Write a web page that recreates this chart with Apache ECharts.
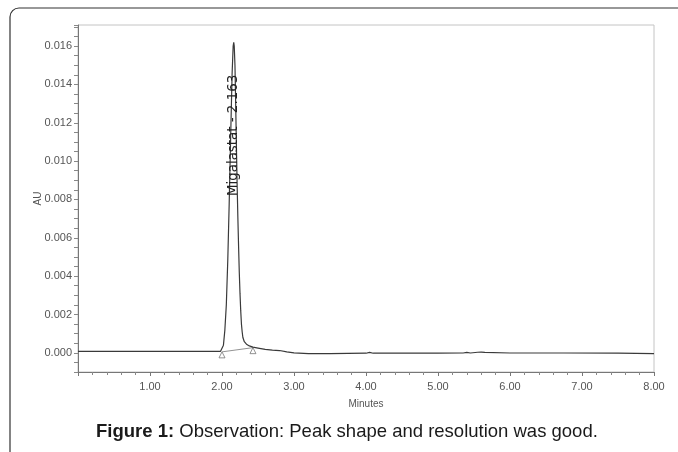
<!DOCTYPE html>
<html>
<head>
<meta charset="utf-8">
<script src="https://cdn.jsdelivr.net/npm/echarts@6/dist/echarts.min.js"></script>
<style>html,body{margin:0;padding:0;background:#fff;}#c{width:678px;height:452px;}</style>
</head>
<body>
<div id="c"></div>
<script>
// Chromatogram trace: [minutes, AU]
const traceTime = [0.0, 0.5, 1.0, 1.5, 1.9, 1.98, 2.0, 2.02, 2.04, 2.06, 2.08, 2.10, 2.12, 2.14, 2.155, 2.163, 2.17, 2.18, 2.19, 2.20, 2.21, 2.22, 2.23, 2.24, 2.25, 2.26, 2.27, 2.28, 2.29, 2.31, 2.34, 2.38, 2.43, 2.5, 2.6, 2.7, 2.8, 2.9, 3.0, 3.2, 3.5, 4.0, 4.05, 4.1, 5.0, 5.35, 5.4, 5.45, 5.55, 5.6, 5.65, 6.0, 6.7, 6.72, 6.75, 7.5, 8.0];
const traceAU   = [0.00008, 0.00008, 0.00008, 0.00008, 0.00008, 0.00008, 0.0001, 0.0004, 0.0012, 0.0025, 0.0048, 0.0078, 0.0112, 0.0145, 0.0160, 0.0162, 0.0160, 0.0150, 0.0130, 0.0108, 0.0088, 0.0071, 0.0056, 0.0042, 0.0031, 0.0022, 0.0015, 0.0011, 0.0008, 0.00058, 0.00045, 0.00036, 0.00030, 0.00025, 0.00018, 0.00014, 0.00012, 0.00005, 0.0, -0.00004, -0.00004, -0.00002, 0.00002, -0.00002, -0.00002, -0.00001, 0.00002, -0.00001, 0.00003, 0.00004, 0.00002, -0.00001, -0.00001, 0.00002, -0.00001, -0.00002, -0.00004];
// Integration baseline (start/end markers)
const baselineTime = [2.0, 2.43];
const baselineAU   = [0.00005, 0.00027];
// Peak annotation
const peakName = 'Migalastat - 2.163';
const peakTime = 2.163;
// Tick labels
const xTickValues = [1, 2, 3, 4, 5, 6, 7, 8];
const yTickValues = [0, 0.002, 0.004, 0.006, 0.008, 0.010, 0.012, 0.014, 0.016];

const FONT = 'Liberation Sans, Arial, sans-serif';
const chart = echarts.init(document.getElementById('c'), null, {renderer: 'canvas'});
const trace = traceTime.map((t, i) => [t, traceAU[i]]);
const base = baselineTime.map((t, i) => [t, baselineAU[i]]);
const peakMax = Math.max.apply(null, traceAU);

chart.setOption({
  animation: false,
  backgroundColor: '#fff',
  grid: {left: 78, right: 24, top: 25, bottom: 80, show: true, borderColor: '#c4c4c4', borderWidth: 1},
  xAxis: {
    type: 'value', min: 0, max: 8, interval: 1,
    name: 'Minutes', nameLocation: 'middle', nameGap: 27,
    nameTextStyle: {fontFamily: FONT, fontSize: 10, color: '#555'},
    axisLine: {show: true, onZero: false, lineStyle: {color: '#777', width: 1}},
    axisTick: {show: true, length: 4, lineStyle: {color: '#777'}},
    minorTick: {show: true, splitNumber: 5, length: 3, lineStyle: {color: '#888'}},
    splitLine: {show: false},
    axisLabel: {
      fontFamily: FONT, fontSize: 11, color: '#555', margin: 9,
      formatter: v => xTickValues.some(t => Math.abs(t - v) < 1e-6) ? v.toFixed(2) : ''
    }
  },
  yAxis: {
    type: 'value', min: -0.001, max: 0.0171, interval: 0.0005,
    name: 'AU', nameLocation: 'middle', nameGap: 35, nameMoveOverlap: false,
    nameTextStyle: {fontFamily: FONT, fontSize: 10, color: '#555'},
    axisLine: {show: true, onZero: false, lineStyle: {color: '#777', width: 1}},
    axisTick: {show: true, length: 4, lineStyle: {color: '#888'}},
    splitLine: {show: false},
    axisLabel: {
      fontFamily: FONT, fontSize: 11, color: '#555', margin: 6,
      formatter: v => yTickValues.some(t => Math.abs(t - v) < 1e-7) ? v.toFixed(3) : ''
    }
  },
  series: [
    {
      type: 'line', data: base, showSymbol: true, symbol: 'triangle', symbolSize: 6,
      symbolOffset: [0, 3],
      itemStyle: {color: '#fff', borderColor: '#777', borderWidth: 0.8},
      lineStyle: {color: '#777', width: 0.8}, z: 2, silent: true
    },
    {
      type: 'line', data: trace, showSymbol: false, symbol: 'none',
      lineStyle: {color: '#3a3a3a', width: 1.2}, z: 3, silent: true,
      markPoint: {
        silent: true, symbol: 'circle', symbolSize: 0.01,
        itemStyle: {color: 'rgba(0,0,0,0)'},
        data: [{name: peakName, coord: [peakTime, peakMax * 0.70]}],
        label: {
          show: true, formatter: '{b}', rotate: 90, position: 'inside',
          fontFamily: 'DejaVu Sans, sans-serif', fontSize: 13.4, color: '#222'
        }
      }
    }
  ],
  graphic: [
    {type: 'rect', shape: {x: 10, y: 8, width: 720, height: 480, r: 9},
     style: {fill: 'none', stroke: '#333', lineWidth: 1.2}, silent: true},
    {type: 'text', left: 96, top: 422, z: 10,
     style: {
       text: '{b|Figure 1:} Observation: Peak shape and resolution was good.',
       fontFamily: FONT, fontSize: 18.5, fill: '#1a1a1a',
       rich: {b: {fontFamily: FONT, fontSize: 18.5, fontWeight: 'bold', fill: '#1a1a1a'}}
     }}
  ]
});
</script>
</body>
</html>
